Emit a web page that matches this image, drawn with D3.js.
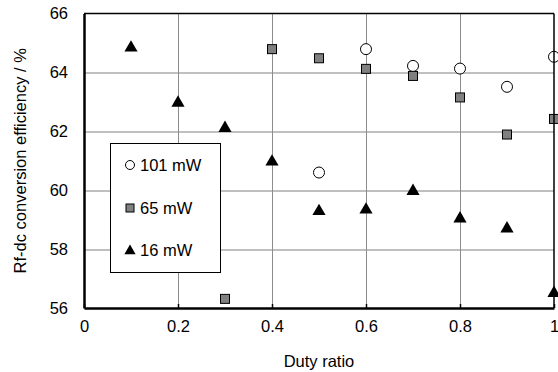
<!DOCTYPE html>
<html>
<head>
<meta charset="utf-8">
<script src="https://cdn.jsdelivr.net/npm/d3@7"></script>
<style>
  body { margin: 0; background: #fff; }
  text { font-family: "Liberation Sans", Arial, sans-serif; fill: #000; }
</style>
</head>
<body>
<div id="chart"></div>
<script>
var dutyRatio = [0.1, 0.2, 0.3, 0.4, 0.5, 0.6, 0.7, 0.8, 0.9, 1.0];

// efficiency (%) per duty ratio, null where not measured
var eff101 = [null, null, null, null, 60.6, 64.79, 64.22, 64.13, 63.51, 64.53];
var eff65  = [null, null, 56.31, 64.79, 64.48, 64.12, 63.88, 63.15, 61.89, 62.42];
var eff16  = [64.87, 63.0, 62.14, 61.0, 59.32, 59.37, 60.0, 59.07, 58.73, 56.54];

var seriesNames = ['101 mW', '65 mW', '16 mW'];
var xTicks = [0, 0.2, 0.4, 0.6, 0.8, 1];
var yTicks = [56, 58, 60, 62, 64, 66];

var width = 558, height = 372;
var margin = {left: 84, top: 13.5, right: 4, bottom: 64};
var w = width - margin.left - margin.right;
var h = height - margin.top - margin.bottom;

var svg = d3.select('#chart').append('svg')
            .attr('width', width)
            .attr('height', height);

var x = d3.scaleLinear().domain([0, 1]).range([0, w]);
var y = d3.scaleLinear().domain([56, 66]).range([h, 0]);

var g = svg.append('g')
           .attr('transform', 'translate(' + margin.left + ',' + margin.top + ')');

// grid
g.append('g').selectAll('line.hgrid').data(yTicks.slice(1, -1)).enter()
 .append('line')
 .attr('x1', 0).attr('x2', w)
 .attr('y1', function(d) { return Math.round(y(d)) + 0.5; })
 .attr('y2', function(d) { return Math.round(y(d)) + 0.5; })
 .attr('stroke', '#808080').attr('stroke-width', 1);

g.append('g').selectAll('line.vgrid').data(xTicks.slice(1, -1)).enter()
 .append('line')
 .attr('y1', 0).attr('y2', h)
 .attr('x1', function(d) { return Math.round(x(d)) + 0.5; })
 .attr('x2', function(d) { return Math.round(x(d)) + 0.5; })
 .attr('stroke', '#8c8c8c').attr('stroke-width', 1);

// markers
var tri = d3.symbol().type(d3.symbolTriangle);
function pts(vals) {
  return dutyRatio.map(function(d, i) { return [d, vals[i]]; })
                  .filter(function(p) { return p[1] !== null; });
}

g.append('g').selectAll('path').data(pts(eff16)).enter()
 .append('path')
 .attr('d', tri.size(75)())
 .attr('transform', function(d) { return 'translate(' + x(d[0]) + ',' + (y(d[1]) + 1) + ')'; })
 .attr('fill', '#000');

g.append('g').selectAll('rect').data(pts(eff65)).enter()
 .append('rect')
 .attr('x', function(d) { return x(d[0]) - 4.5; })
 .attr('y', function(d) { return y(d[1]) - 4.5; })
 .attr('width', 9).attr('height', 9)
 .attr('fill', '#808080').attr('stroke', '#000').attr('stroke-width', 1);

g.append('g').selectAll('circle').data(pts(eff101)).enter()
 .append('circle')
 .attr('cx', function(d) { return x(d[0]); })
 .attr('cy', function(d) { return y(d[1]); })
 .attr('r', 5.5)
 .attr('fill', '#fff').attr('stroke', '#000').attr('stroke-width', 1);

// legend
var leg = svg.append('g').attr('transform', 'translate(110.5,143.5)');
leg.append('rect').attr('width', 110).attr('height', 129)
   .attr('fill', '#fff').attr('stroke', '#000').attr('stroke-width', 1);
var rowY = [21.5, 64.5, 106.5];
leg.append('circle').attr('cx', 19.5).attr('cy', rowY[0]).attr('r', 4.5)
   .attr('fill', '#fff').attr('stroke', '#000');
leg.append('rect').attr('x', 15.5).attr('y', rowY[1] - 4).attr('width', 8).attr('height', 8)
   .attr('fill', '#808080').attr('stroke', '#000');
leg.append('path').attr('d', tri.size(55)())
   .attr('transform', 'translate(19.5,' + (rowY[2] + 1) + ')').attr('fill', '#000');
leg.selectAll('text').data(seriesNames).enter()
   .append('text')
   .attr('x', 29.5)
   .attr('y', function(d, i) { return rowY[i] + 6; })
   .attr('font-size', 16.5)
   .text(function(d) { return d; });

// frame
g.append('line').attr('x1', 0).attr('x2', w).attr('y1', 0).attr('y2', 0)
 .attr('stroke', '#000').attr('stroke-width', 1.5);
g.append('line').attr('x1', w).attr('x2', w).attr('y1', 0).attr('y2', h)
 .attr('stroke', '#000').attr('stroke-width', 1.5);

var xAxis = d3.axisBottom(x).tickValues(xTicks).tickFormat(d3.format('')).tickSizeInner(-4).tickSizeOuter(0).tickPadding(12);
var yAxis = d3.axisLeft(y).tickValues(yTicks).tickSizeInner(0).tickSizeOuter(0).tickPadding(16);

var xg = g.append('g').attr('transform', 'translate(0,' + h + ')').call(xAxis);
var yg = g.append('g').call(yAxis);

[xg, yg].forEach(function(a) {
  a.select('.domain').attr('stroke', '#000').attr('stroke-width', 2.5);
  a.selectAll('.tick line').attr('stroke', '#000').attr('stroke-width', 1.5);
  a.selectAll('.tick text').attr('font-size', 16.5)
   .attr('font-family', '"Liberation Sans", Arial, sans-serif').attr('fill', '#000');
});

// axis titles
svg.append('text')
   .attr('x', margin.left + w / 2).attr('y', 367)
   .attr('text-anchor', 'middle').attr('font-size', 16.5)
   .text('Duty ratio');

svg.append('text')
   .attr('transform', 'translate(26,' + (margin.top + h / 2) + ') rotate(-90)')
   .attr('text-anchor', 'middle').attr('font-size', 16.5)
   .text('Rf-dc conversion efficiency / %');
</script>
</body>
</html>
